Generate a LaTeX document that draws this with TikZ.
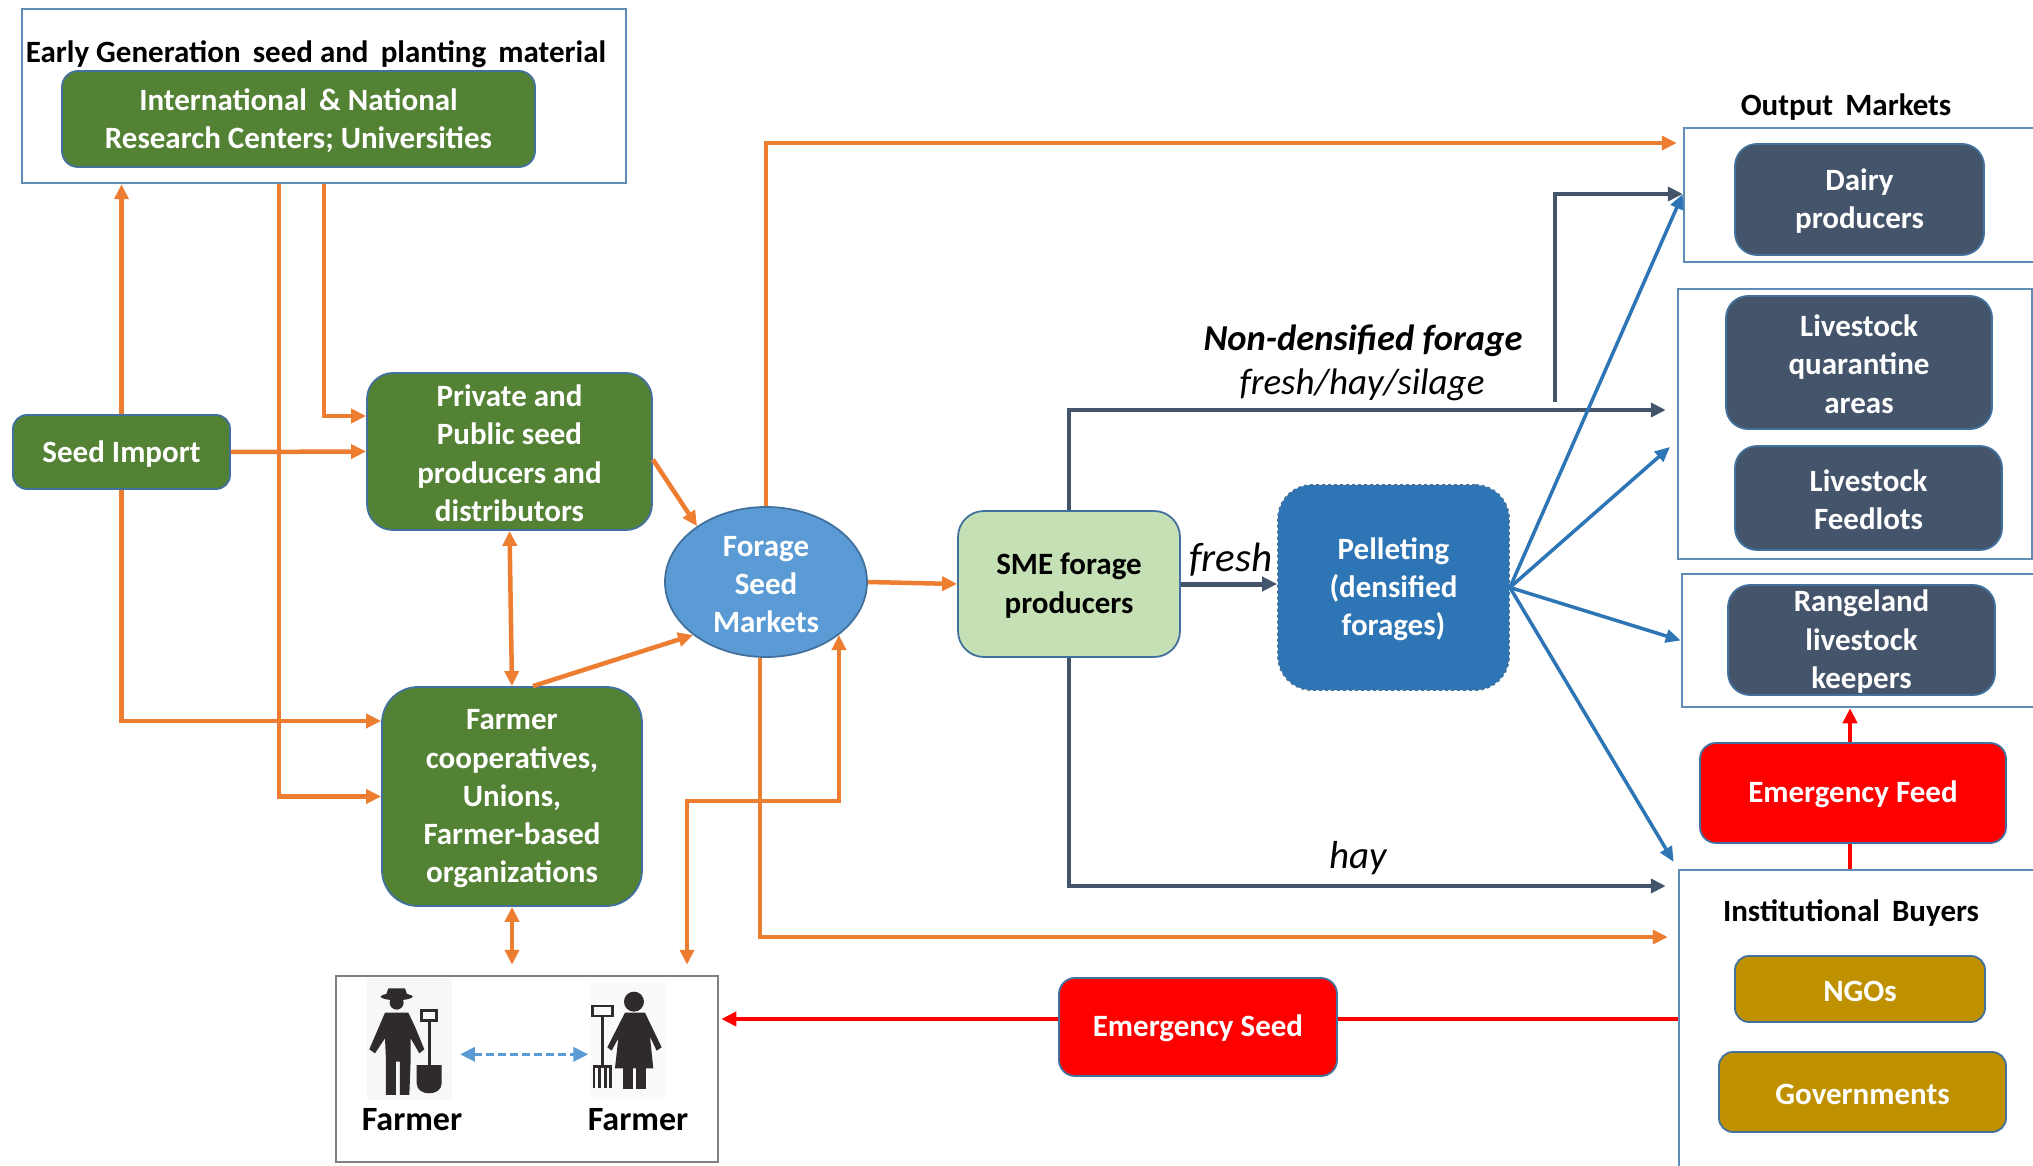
\documentclass[tikz,border=0pt]{standalone}
\usepackage{fontspec}
\setmainfont{Carlito}
\usetikzlibrary{arrows.meta,shapes.geometric,calc}
\definecolor{cgreen}{HTML}{548235}
\definecolor{cslate}{HTML}{44546A}
\definecolor{cblue}{HTML}{5B9BD5}
\definecolor{cdeep}{HTML}{2E75B6}
\definecolor{clight}{HTML}{C5E0B4}
\definecolor{corange}{HTML}{ED7D31}
\definecolor{cgold}{HTML}{BF9000}
\definecolor{cedge}{HTML}{41719C}
\definecolor{cframe}{HTML}{5F8DB5}
\definecolor{cink}{HTML}{2F2A2B}
\newcommand\dn{\rule{0pt}{25pt}}
\tikzset{
  sz/.style 2 args={minimum width=#1pt,minimum height=#2pt,inner sep=0pt},
  txt/.style={font=\fontsize{31}{38.3}\selectfont\bfseries,align=center},
  fbox/.style={rectangle,draw=cframe,line width=2.5pt,fill=white},
  gbox/.style={txt,rectangle,rounded corners=#1pt,draw=cedge,line width=1.8pt,fill=cgreen,text=white},
  dbox/.style={txt,rectangle,rounded corners=22pt,draw=cedge,line width=1.8pt,fill=cslate,text=white},
  ybox/.style={txt,rectangle,rounded corners=14pt,draw=cedge,line width=1.8pt,fill=cgold,text=white},
  rbox/.style={txt,rectangle,rounded corners=16pt,draw=cedge,line width=1.8pt,fill=red,text=white},
  lab/.style={txt,text=black,font=\fontsize{31}{36}\selectfont\bfseries},
  ital/.style={font=\fontsize{38}{44}\selectfont\itshape,text=black},
  tip/.style={-{Triangle[length=15pt,width=14pt]}},
  orline/.style={draw=corange,line width=4.5pt},
  orarrow/.style={orline,tip},
  ordouble/.style={orline,{Triangle[length=15pt,width=14pt]}-{Triangle[length=15pt,width=14pt]}},
  slline/.style={draw=cslate,line width=4.5pt,tip},
  blline/.style={draw=cdeep,line width=3.5pt,-{Triangle[length=15pt,width=13pt]}},
  redline/.style={draw=red,line width=4pt},
  ink/.style={fill=cink,draw=none},
  inkline/.style={draw=cink,line width=2.6pt,fill=none},
}
\begin{document}
\begin{tikzpicture}[x=1pt,y=-1pt]
\useasboundingbox (0,0) rectangle (2033,1166);
\fill[white] (0,0) rectangle (2033,1166);

% frames
\node[fbox,sz={604}{174}] (top) at (324,96) {};
\node[fbox,sz={352}{134}] (dairybox) at (1860,195) {};
\node[fbox,sz={354}{270}] (boxtwo) at (1855,424) {};
\node[fbox,sz={354}{133}] (boxthree) at (1859,640.5) {};
\node[fbox,sz={357}{300}] (inst) at (1857.5,1020) {};
\node[rectangle,draw=black!50,line width=2.5pt,fill=white,sz={382}{186}] (farmers) at (527,1069) {};

% labels of frames
\node[lab] (toplab) at (316,54) {Early Generation\, seed and\, planting\, material};
\node[lab] (outlab) at (1846,107) {Output\, Markets};
\node[lab] (instlab) at (1851,913) {Institutional\, Buyers};

% green nodes
\node[gbox=16,sz={473}{96}] (intl) at (298.5,119) {\dn International\, \& National\\Research Centers; Universities};
\node[gbox=14,sz={217}{74}] (imp) at (121.5,452) {\dn Seed Import};
\node[gbox=26,sz={285}{157}] (priv) at (509.5,451.5) {\dn Private and\\Public seed\\producers and\\distributors};
\node[gbox=36,sz={260}{219}] (coop) at (512,796.5) {\dn Farmer\\cooperatives,\\Unions,\\Farmer-based\\organizations};

% middle nodes
\node[ellipse,txt,draw=cedge,line width=1.8pt,fill=cblue,text=white,sz={202}{150}] (forage) at (766,582) {\dn Forage\\Seed\\Markets};
\node[txt,rectangle,rounded corners=26pt,draw=cedge,line width=1.8pt,fill=clight,text=black,sz={222}{146}] (sme) at (1069,584) {\dn SME forage\\producers};
\node[txt,rectangle,rounded corners=34pt,draw=cedge,dashed,line width=1.8pt,fill=cdeep,text=white,sz={231}{205}] (pel) at (1393.5,587.5) {\dn Pelleting\\(densified\\forages)};

% output nodes
\node[dbox,sz={249}{111}] (dairy) at (1859.5,199.5) {\dn Dairy\\producers};
\node[dbox,sz={266}{133}] (quar) at (1859,362.5) {\dn Livestock\\quarantine\\areas};
\node[dbox,sz={267}{104}] (feed) at (1868.5,498) {\dn Livestock\\Feedlots};
\node[dbox,sz={267}{110}] (range) at (1861.5,640) {\dn Rangeland\\livestock\\keepers};
\node[rbox,sz={306}{100}] (ef) at (1853,793) {\dn Emergency Feed};
\node[ybox,sz={250}{66}] (ngo) at (1860,989) {\dn NGOs};
\node[ybox,sz={287}{80}] (gov) at (1862.5,1092) {\dn Governments};
\node[rbox,sz={278}{98}] (es) at (1198,1027) {\dn Emergency Seed};

% orange connectors
\draw[orarrow] (imp.north) -- (imp.north |- top.south);
\draw[orarrow] (imp.east) -- (priv.west);
\draw[orarrow] (imp.south) |- ([yshift=75.5pt]coop.west);
\draw[orarrow] ([xshift=-45pt]top.south) |- (coop.west);
\draw[orarrow] (top.south) |- ([yshift=35.5pt]priv.west);
\draw[orarrow] ([yshift=-8pt]priv.east) -- (forage.141);
\draw[ordouble] (priv.south) -- (coop.north);
\draw[orarrow] ([xshift=21pt]coop.north) -- (forage.216);
\draw[orarrow,shorten >=6pt] (forage.north) |- ([yshift=52pt]dairybox.west);
\draw[orarrow] (forage.east) -- (sme.west);
\draw[orarrow,shorten >=10pt] ([xshift=-6pt]forage.south) |- ([yshift=83pt]inst.west);
\coordinate (mid) at (687,801);
\draw[ordouble,shorten >=10pt] (forage.-36) |- (mid) -- (mid |- farmers.north);
\draw[ordouble,shorten >=10pt] (coop.south) -- (coop.south |- farmers.north);

% slate connectors
\coordinate (jn) at (1555,402);
\draw[slline,shorten >=11pt] (sme.north) |- ([yshift=14pt]boxtwo.west);
\draw[slline] (jn) |- ([yshift=1pt]dairybox.west);
\draw[slline,line width=5pt] (sme.east) -- (sme.east -| pel.west);
\draw[slline,shorten >=12pt] (sme.south) |- ([yshift=134pt]inst.west);

% blue connectors
\draw[blline] (pel.east) -- ([yshift=1pt]dairybox.west);
\draw[blline,shorten >=9pt] (pel.east) -- ([yshift=-17pt]boxtwo.west);
\draw[blline] (pel.east) -- (boxthree.west);
\draw[blline,shorten >=8pt] (pel.east) -- (inst.north west);

% red connectors
\draw[redline,tip] ([xshift=-3pt]ef.north) -- ([xshift=-3pt]ef.north |- boxthree.south);
\draw[redline] ([xshift=-3pt]ef.south) -- ([xshift=-3pt]ef.south |- inst.north);
\draw[redline] ([yshift=8pt]es.east) -- ([yshift=8pt]es.east -| inst.west);
\draw[redline,tip,shorten >=2pt] ([yshift=8pt]es.west) -- ([yshift=8pt]es.west -| farmers.east);

% texts on connectors
\node[ital,font=\fontsize{36.5}{44}\selectfont\bfseries\itshape] (nd) at (1363,341) {Non-densified forage};
\node[ital,font=\fontsize{37}{44}\selectfont\itshape] (fhs) at (1362,385) {fresh/hay/silage};
\node[ital,font=\fontsize{41}{44}\selectfont\itshape] (fr) at (1231,560) {fresh};
\node[ital,font=\fontsize{39}{44}\selectfont\itshape] (hy) at (1358,858) {hay};

% farmer icons
\begin{scope}[shift={(320,960)},x=0.3333pt,y=-0.3333pt]
  \fill[black!3] (140,55) rectangle (395,420);
  \fill[black!2] (812,70) rectangle (1035,410);
  % left farmer
  \fill[ink] (230,110) ellipse [x radius=16pt,y radius=3.5pt];
  \fill[ink] (197,108) -- (205,85) -- (255,85) -- (263,108) -- cycle;
  \fill[ink] (230,128) circle [radius=7pt];
  \fill[ink] (195,158) -- (265,158) -- (285,200) -- (313,268) -- (298,280) -- (272,235) -- (272,300) -- (268,405) -- (240,405) -- (240,305) -- (228,305) -- (228,405) -- (198,405) -- (198,300) -- (195,235) -- (165,280) -- (148,268) -- cycle;
  \draw[inkline] (305,152) rectangle (350,182);
  \draw[inkline] (328,182) -- (328,320);
  \fill[ink] (290,315) -- (365,315) -- (365,370) .. controls (365,410) and (290,410) .. (290,370) -- cycle;
  % right farmer
  \fill[ink] (942,125) circle [radius=10pt];
  \fill[ink] (915,158) -- (975,158) -- (1025,262) -- (1010,272) -- (990,230) -- (1000,325) -- (885,325) -- (895,235) -- (875,272) -- (862,262) -- cycle;
  \fill[ink] (908,325) rectangle (938,388);
  \fill[ink] (948,325) rectangle (978,388);
  \draw[inkline] (818,138) rectangle (878,168);
  \draw[inkline] (847,168) -- (847,300);
  \draw[inkline] (822,385) -- (822,320) -- (872,320) -- (872,385);
  \draw[inkline] (838,385) -- (838,320);
  \draw[inkline] (856,385) -- (856,320);
  \draw[inkline] (847,300) -- (847,320);
  \coordinate (fa) at (420,283);
  \coordinate (fb) at (805,283);
\end{scope}
\draw[draw=cblue,line width=3.5pt,dash pattern=on 8pt off 4pt,{Triangle[length=15pt,width=14pt]}-{Triangle[length=15pt,width=14pt]}] (fa) -- (fb);
\node[lab,font=\fontsize{34}{36}\selectfont\bfseries] (fl) at (412,1120) {Farmer};
\node[lab,font=\fontsize{34}{36}\selectfont\bfseries] (fr2) at (638,1120) {Farmer};
\end{tikzpicture}
\end{document}
